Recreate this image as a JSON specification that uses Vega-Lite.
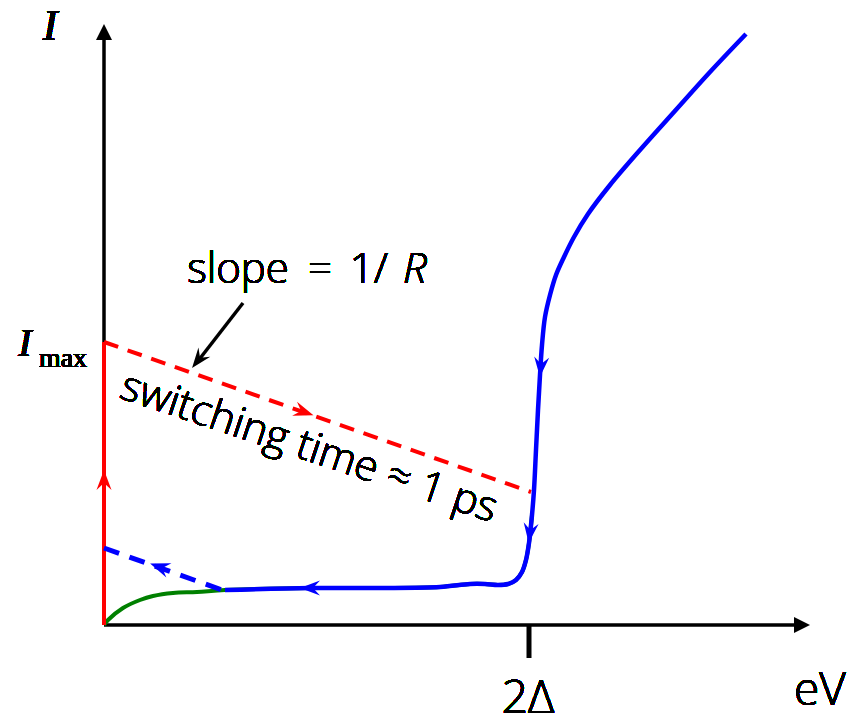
{
  "$schema": "https://vega.github.io/schema/vega-lite/v6.json",
  "width": 851,
  "height": 721,
  "autosize": {"type": "none"},
  "padding": 0,
  "background": "white",
  "config": {"view": {"stroke": null}},
  "datasets": {
    "paths": [
      {"s": "axisY", "o": 1, "x": 0, "y": 0},
      {"s": "axisY", "o": 2, "x": 0, "y": 594},
      {"s": "axisX", "o": 1, "x": 0, "y": 0},
      {"s": "axisX", "o": 2, "x": 698, "y": 0},
      {"s": "tick", "o": 1, "x": 425, "y": 0},
      {"s": "tick", "o": 2, "x": 425, "y": -33},
      {"s": "green", "o": 1, "x": 0, "y": 0},
      {"s": "green", "o": 2, "x": 4, "y": 5},
      {"s": "green", "o": 3, "x": 19, "y": 17},
      {"s": "green", "o": 4, "x": 36, "y": 25},
      {"s": "green", "o": 5, "x": 49, "y": 29},
      {"s": "green", "o": 6, "x": 69, "y": 32},
      {"s": "green", "o": 7, "x": 93, "y": 33},
      {"s": "green", "o": 8, "x": 121, "y": 35},
      {"s": "green", "o": 9, "x": 206, "y": 37},
      {"s": "green", "o": 10, "x": 276, "y": 37},
      {"s": "green", "o": 11, "x": 336, "y": 38},
      {"s": "green", "o": 12, "x": 366, "y": 41},
      {"s": "green", "o": 13, "x": 381, "y": 41},
      {"s": "green", "o": 14, "x": 394, "y": 40},
      {"s": "green", "o": 15, "x": 404, "y": 41},
      {"s": "green", "o": 16, "x": 412, "y": 45},
      {"s": "green", "o": 17, "x": 418, "y": 53},
      {"s": "green", "o": 18, "x": 422, "y": 65},
      {"s": "green", "o": 19, "x": 425, "y": 82},
      {"s": "green", "o": 20, "x": 428, "y": 110},
      {"s": "redv", "o": 1, "x": 0, "y": 0},
      {"s": "redv", "o": 2, "x": 0, "y": 283},
      {"s": "redd", "o": 1, "x": 0, "y": 283},
      {"s": "redd", "o": 2, "x": 427, "y": 133},
      {"s": "blued", "o": 1, "x": 0, "y": 77},
      {"s": "blued", "o": 2, "x": 121, "y": 34},
      {"s": "note", "o": 1, "x": 139, "y": 322},
      {"s": "note", "o": 2, "x": 94, "y": 264},
      {"s": "blue", "o": 1, "x": 642, "y": 591},
      {"s": "blue", "o": 2, "x": 606, "y": 553},
      {"s": "blue", "o": 3, "x": 570, "y": 513},
      {"s": "blue", "o": 4, "x": 536, "y": 475},
      {"s": "blue", "o": 5, "x": 506, "y": 440},
      {"s": "blue", "o": 6, "x": 484, "y": 411},
      {"s": "blue", "o": 7, "x": 470, "y": 388},
      {"s": "blue", "o": 8, "x": 460, "y": 368},
      {"s": "blue", "o": 9, "x": 452, "y": 350},
      {"s": "blue", "o": 10, "x": 446, "y": 330},
      {"s": "blue", "o": 11, "x": 441, "y": 308},
      {"s": "blue", "o": 12, "x": 438, "y": 280},
      {"s": "blue", "o": 13, "x": 436, "y": 250},
      {"s": "blue", "o": 14, "x": 434, "y": 215},
      {"s": "blue", "o": 15, "x": 432, "y": 175},
      {"s": "blue", "o": 16, "x": 430, "y": 135},
      {"s": "blue", "o": 17, "x": 428, "y": 110},
      {"s": "blue", "o": 18, "x": 425, "y": 82},
      {"s": "blue", "o": 19, "x": 422, "y": 65},
      {"s": "blue", "o": 20, "x": 418, "y": 53},
      {"s": "blue", "o": 21, "x": 412, "y": 45},
      {"s": "blue", "o": 22, "x": 404, "y": 41},
      {"s": "blue", "o": 23, "x": 394, "y": 40},
      {"s": "blue", "o": 24, "x": 381, "y": 41},
      {"s": "blue", "o": 25, "x": 366, "y": 41},
      {"s": "blue", "o": 26, "x": 336, "y": 38},
      {"s": "blue", "o": 27, "x": 276, "y": 37},
      {"s": "blue", "o": 28, "x": 206, "y": 37},
      {"s": "blue", "o": 29, "x": 121, "y": 35}
    ],
    "heads": [
      {"k": "axis", "c": "black", "x": 0, "y": 593, "a": 0},
      {"k": "axis", "c": "black", "x": 698, "y": 0, "a": 90},
      {"k": "barb", "c": "red", "x": 0, "y": 145, "a": 0},
      {"k": "barb", "c": "red", "x": 200, "y": 213, "a": 109},
      {"k": "barb", "c": "blue", "x": 436.8, "y": 258, "a": 185},
      {"k": "barb", "c": "blue", "x": 425.9, "y": 92, "a": 187},
      {"k": "barb", "c": "blue", "x": 206, "y": 37, "a": 270},
      {"k": "barb", "c": "blue", "x": 55.5, "y": 58, "a": 290},
      {"k": "barb", "c": "black", "x": 94.2, "y": 265, "a": 218}
    ]
  },
  "data": {"name": "paths"},
  "encoding": {
    "x": {"field": "x", "type": "quantitative", "scale": {"domain": [-104, 747], "nice": false, "zero": false}, "axis": null},
    "y": {"field": "y", "type": "quantitative", "scale": {"domain": [-96, 625], "nice": false, "zero": false}, "axis": null}
  },
  "layer": [
    {
      "transform": [{"filter": "datum.s === 'axisY' || datum.s === 'axisX'"}],
      "mark": {"type": "line", "color": "black", "strokeWidth": 3.5},
      "encoding": {"detail": {"field": "s"}, "order": {"field": "o"}}
    },
    {
      "transform": [{"filter": "datum.s === 'tick'"}],
      "mark": {"type": "line", "color": "black", "strokeWidth": 5},
      "encoding": {"order": {"field": "o"}}
    },
    {
      "transform": [{"filter": "datum.s === 'green'"}],
      "mark": {"type": "line", "color": "#008000", "strokeWidth": 4, "interpolate": "catmull-rom"},
      "encoding": {"order": {"field": "o"}}
    },
    {
      "transform": [{"filter": "datum.s === 'redv'"}],
      "mark": {"type": "line", "color": "#ff0000", "strokeWidth": 4},
      "encoding": {"order": {"field": "o"}}
    },
    {
      "transform": [{"filter": "datum.s === 'redd'"}],
      "mark": {"type": "line", "color": "#ff0000", "strokeWidth": 4, "strokeDash": [15, 10]},
      "encoding": {"order": {"field": "o"}}
    },
    {
      "transform": [{"filter": "datum.s === 'blued'"}],
      "mark": {"type": "line", "color": "#0000ff", "strokeWidth": 5, "strokeDash": [16, 11]},
      "encoding": {"order": {"field": "o"}}
    },
    {
      "transform": [{"filter": "datum.s === 'blue'"}],
      "mark": {"type": "line", "color": "#0000ff", "strokeWidth": 4.5, "interpolate": "catmull-rom"},
      "encoding": {"order": {"field": "o"}}
    },
    {
      "transform": [{"filter": "datum.s === 'note'"}],
      "mark": {"type": "line", "color": "black", "strokeWidth": 3.5},
      "encoding": {"order": {"field": "o"}}
    },
    {
      "data": {"name": "heads"},
      "transform": [{"filter": "datum.k === 'axis'"}],
      "mark": {"type": "point", "shape": "M0,-1L1,1L-1,1Z", "filled": true, "size": 256, "opacity": 1, "strokeWidth": 0},
      "encoding": {
        "angle": {"field": "a", "type": "quantitative", "scale": null},
        "color": {"field": "c", "type": "nominal", "scale": null}
      }
    },
    {
      "data": {"name": "heads"},
      "transform": [{"filter": "datum.k === 'barb'"}],
      "mark": {"type": "point", "shape": "M0,-1L0.75,1L0,0.3L-0.75,1Z", "filled": true, "size": 400, "opacity": 1, "strokeWidth": 0},
      "encoding": {
        "angle": {"field": "a", "type": "quantitative", "scale": null},
        "color": {"field": "c", "type": "nominal", "scale": null}
      }
    },
    {
      "mark": {"type": "text", "font": "Liberation Serif", "fontStyle": "italic", "fontSize": 44, "baseline": "middle", "align": "center", "color": "black"},
      "encoding": {"x": {"datum": -54}, "y": {"datum": 598}, "text": {"value": "I"}}
    },
    {
      "mark": {"type": "text", "font": "Liberation Serif", "fontStyle": "italic", "fontSize": 40, "baseline": "alphabetic", "align": "center", "color": "black"},
      "encoding": {"x": {"datum": -79}, "y": {"datum": 269}, "text": {"value": "I"}}
    },
    {
      "mark": {"type": "text", "font": "Liberation Serif", "fontSize": 28, "baseline": "alphabetic", "align": "center", "color": "black"},
      "encoding": {"x": {"datum": -41}, "y": {"datum": 258}, "text": {"value": "max"}}
    },
    {
      "mark": {"type": "text", "font": "Open Sans", "fontWeight": 300, "fontSize": 46, "baseline": "alphabetic", "align": "center", "color": "black"},
      "encoding": {"x": {"datum": 424}, "y": {"datum": -88}, "text": {"value": "2Δ"}}
    },
    {
      "mark": {"type": "text", "font": "Open Sans", "fontWeight": 300, "fontSize": 46, "baseline": "alphabetic", "align": "center", "color": "black"},
      "encoding": {"x": {"datum": 716}, "y": {"datum": -80}, "text": {"value": "eV"}}
    },
    {
      "mark": {"type": "text", "font": "Open Sans", "fontWeight": 300, "fontSize": 42, "baseline": "alphabetic", "align": "center", "color": "black"},
      "encoding": {"x": {"datum": 134}, "y": {"datum": 342}, "text": {"value": "slope"}}
    },
    {
      "mark": {"type": "text", "font": "Open Sans", "fontWeight": 300, "fontSize": 42, "baseline": "alphabetic", "align": "center", "color": "black"},
      "encoding": {"x": {"datum": 216}, "y": {"datum": 342}, "text": {"value": "="}}
    },
    {
      "mark": {"type": "text", "font": "Open Sans", "fontWeight": 300, "fontSize": 42, "baseline": "alphabetic", "align": "center", "color": "black"},
      "encoding": {"x": {"datum": 265}, "y": {"datum": 342}, "text": {"value": "1/"}}
    },
    {
      "mark": {"type": "text", "font": "Open Sans", "fontWeight": 300, "fontStyle": "italic", "fontSize": 42, "baseline": "alphabetic", "align": "center", "color": "black"},
      "encoding": {"x": {"datum": 311}, "y": {"datum": 342}, "text": {"value": "R"}}
    },
    {
      "mark": {"type": "text", "font": "Open Sans", "fontWeight": 300, "fontSize": 42, "baseline": "alphabetic", "align": "center", "angle": 18.5, "color": "black"},
      "encoding": {"x": {"datum": 201}, "y": {"datum": 165}, "text": {"value": "switching time ≈ 1 ps"}}
    }
  ]
}
